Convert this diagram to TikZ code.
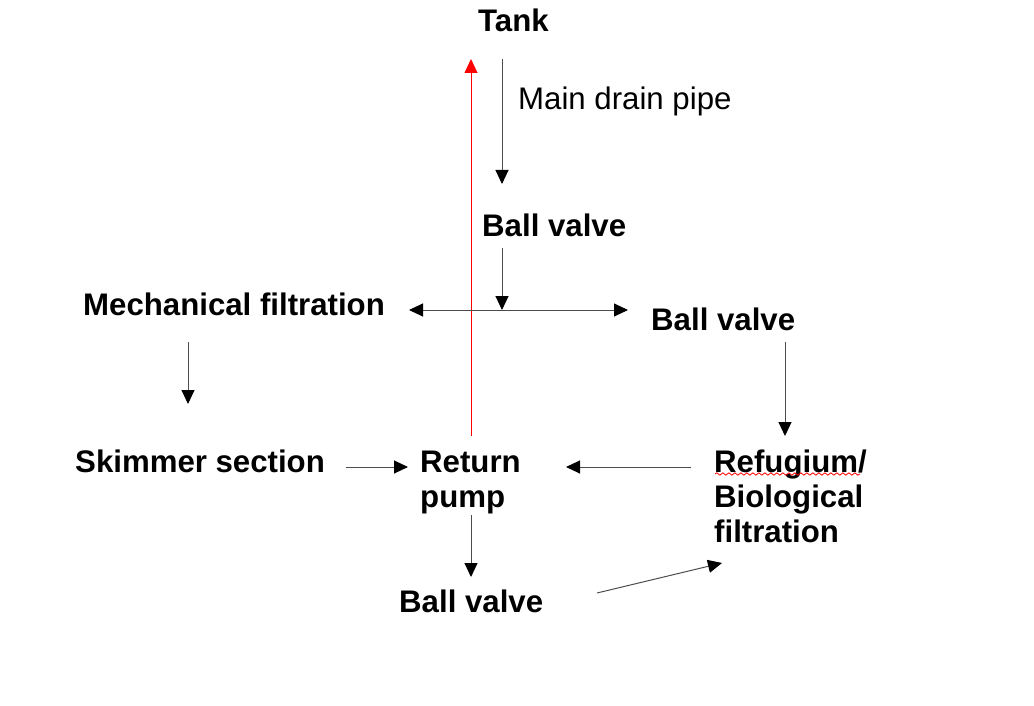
\documentclass[tikz,border=0pt]{standalone}
\usepackage{fontspec}
\setmainfont{Liberation Sans}
\usetikzlibrary{arrows.meta,decorations.pathmorphing}
\tikzset{
  lbl/.style={anchor=base west,inner sep=0pt,font=\fontsize{31.2}{35}\selectfont\bfseries,align=left},
  plain/.style={anchor=base west,inner sep=0pt,font=\fontsize{31.2}{35}\selectfont},
  flow/.style={draw=black!70,line width=1pt,-{Triangle[length=14pt,width=13pt,color=black]}},
  both/.style={draw=black!70,line width=1pt,{Triangle[length=14pt,width=13pt,color=black]}-{Triangle[length=14pt,width=13pt,color=black]}}
}
\begin{document}
\begin{tikzpicture}[x=1pt,y=-1pt]
      \useasboundingbox (0,0) rectangle (1034,706);
      \draw
        (478,32) node[lbl] (tank){Tank}
        (518,110) node[plain] (drain){Main drain pipe}
        (482,236) node[lbl] (valvea){Ball valve}
        (83,315) node[lbl] (mech){Mechanical filtration}
        (651,330) node[lbl] (valveb){Ball valve}
        (75,472) node[lbl] (skim){Skimmer section}
        (420,507) node[lbl] (pump){Return\\pump}
        (714,542) node[lbl] (refu){Refugium/\\Biological\\filtration}
        (399,612) node[lbl] (valvec){Ball valve};
      \path
        (471,436) coordinate (up0) (471,59) coordinate (up1)
        (502,59) coordinate (dr0) (502,184) coordinate (dr1)
        (502,248) coordinate (va0) (502,310) coordinate (va1)
        (409,310) coordinate (sp0) (628,310) coordinate (sp1)
        (188,342) coordinate (me0) (188,404) coordinate (me1)
        (785,342) coordinate (vb0) (785,436) coordinate (vb1)
        (346,467) coordinate (sk0) (408,467) coordinate (sk1)
        (691,467) coordinate (re0) (566,467) coordinate (re1)
        (471,515) coordinate (pu0) (471,577) coordinate (pu1)
        (597,593) coordinate (vc0) (722,563) coordinate (vc1);
      \begin{scope}
        \draw[line width=0.9pt,red,-{Triangle[length=14pt,width=13pt]}] (up0) to (up1);
        \draw[flow] (dr0) to (dr1);
        \draw[flow] (va0) to (va1);
        \draw[both] (sp0) to (sp1);
        \draw[flow] (me0) to (me1);
        \draw[flow] (vb0) to (vb1);
        \draw[flow] (sk0) to (sk1);
        \draw[flow] (re0) to (re1);
        \draw[flow] (pu0) to (pu1);
        \draw[flow] (vc0) to (vc1);
      \end{scope}
      \draw[red,line width=0.8pt,decorate,decoration={snake,amplitude=1.2pt,segment length=6pt}]
        (715,474) -- (860,474);
    \end{tikzpicture}
\end{document}
